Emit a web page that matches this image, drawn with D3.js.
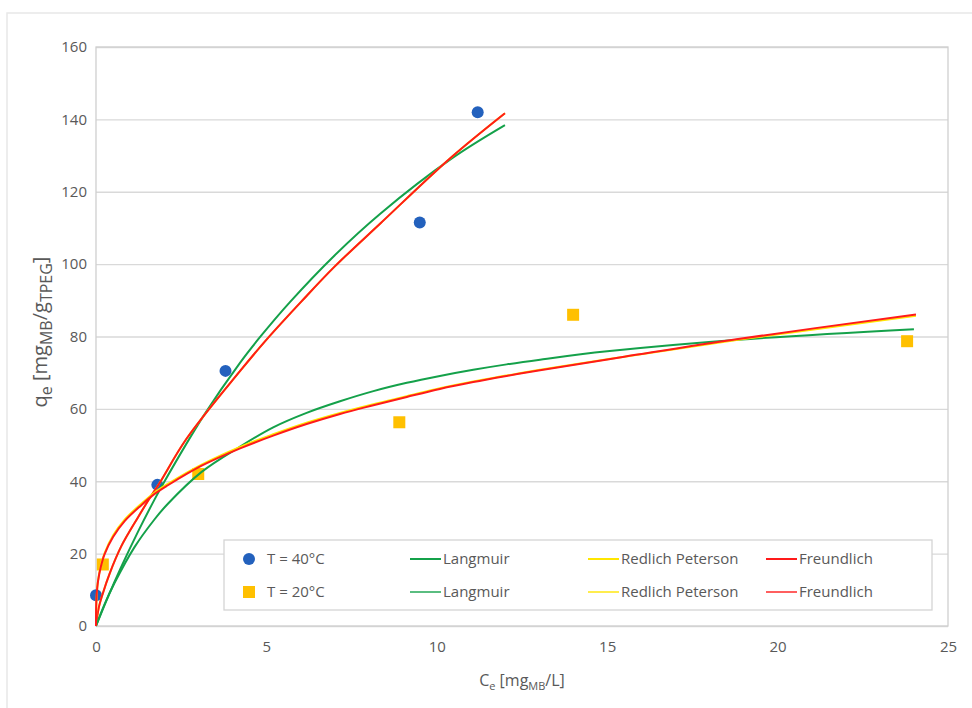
<!DOCTYPE html>
<html lang="en">
<head>
<meta charset="UTF-8">
<title>Isotherms</title>
<script src="https://d3js.org/d3.v7.min.js"></script>
<style>
    body { margin: 0; background: #fff; }
    text { font-family: "Open Sans", sans-serif; fill: #595959; }
    .grid line { stroke: #d9d9d9; stroke-width: 1.3; }
    .grid path { display: none; }
    .axis path, .axis line { display: none; }
    .fit { fill: none; stroke-width: 2; }
</style>
</head>
<body>
<div id="chart"></div>
<script>
    // measured points
    const pts40 = [[0.0, 8.5], [1.8, 39], [3.8, 70.5], [9.5, 111.5], [11.2, 142]];
    const pts20 = [[0.2, 17], [3.0, 42], [8.9, 56.3], [14.0, 86], [23.8, 78.7]];

    // fitted curves
    const langmuir40 = [[0, 0], [0.35, 8], [0.74, 16.3], [1.23, 26], [1.72, 35], [2.0, 39.8], [3.15, 58],
        [4.23, 72.8], [4.81, 79.8], [5.69, 89.5], [7, 102.4], [8.35, 114], [10.41, 129], [12, 138.4]];
    const freundlich40 = [[0, 0], [0.08, 5], [0.2, 9], [0.4, 14.5], [0.74, 22], [1.23, 30], [1.62, 36], [1.87, 39.6],
        [2.66, 51.8], [4.23, 70.5], [5.01, 79.2], [6.03, 89.7], [7, 99.3], [8.35, 111.3], [10.41, 129.4], [12, 141.7]];
    const redlich40 = freundlich40;
    const langmuir20 = [[0, 0], [0.25, 6], [0.55, 12], [1.13, 21.8], [1.72, 29.5], [2.11, 33.8], [3.1, 42.6],
        [4.23, 49.6], [5.2, 54.9], [6.18, 58.9], [7.16, 62.1], [8.14, 64.9], [9.12, 67.2], [10.09, 69.1],
        [11.07, 70.8], [12.05, 72.3], [13.03, 73.6], [15, 75.9], [18.84, 79.1], [24, 82]];
    const freundlich20 = [[0, 0], [0.005, 5.5], [0.02, 8.8], [0.06, 12.4], [0.14, 16.3], [0.25, 19.8], [0.5, 24.6],
        [0.84, 29], [1.33, 33.4], [1.72, 36.5], [2.11, 38.9], [3.1, 44.3], [4.23, 49.1], [5.2, 52.6], [6.18, 55.8],
        [7.16, 58.6], [8.14, 61], [9.12, 63.3], [10.09, 65.5], [11.07, 67.4], [12.05, 69.1], [13.03, 70.7],
        [15.5, 74.4], [18.84, 79.3], [24.06, 86.1]];
    const redlich20 = [[0, 0], [0.02, 8], [0.06, 12.6], [0.14, 16.6], [0.25, 20.1], [0.5, 25], [0.84, 29.4],
        [1.33, 33.8], [1.72, 36.9], [2.11, 39.3], [3.1, 44.6], [4.23, 49.5], [5.2, 53], [6.18, 56.2], [7.16, 58.9],
        [8.14, 61.3], [9.12, 63.5], [10.09, 65.7], [11.07, 67.6], [12.05, 69.2], [13.03, 70.8],
        [15.5, 74.4], [18.84, 79.1], [24.06, 85.7]];

    const xTicks = [0, 5, 10, 15, 20, 25];
    const yTicks = [0, 20, 40, 60, 80, 100, 120, 140, 160];

    const width = 972, height = 708;
    const pLeft = 96, pRight = 948, pTop = 47, pBottom = 626;

    const svg = d3.select("#chart").append("svg")
        .attr("width", width)
        .attr("height", height);

    // chart frame (cropped)
    svg.append("rect")
        .attr("x", 7).attr("y", 13)
        .attr("width", 1000).attr("height", 800)
        .attr("fill", "none")
        .attr("stroke", "#e8e8e8")
        .attr("stroke-width", 1.5);

    const x = d3.scaleLinear().domain([0, 25]).range([pLeft, pRight]);
    const y = d3.scaleLinear().domain([0, 160]).range([pBottom, pTop]);

    // horizontal gridlines
    svg.append("g")
        .attr("class", "grid")
        .attr("transform", "translate(" + pLeft + ",0)")
        .call(d3.axisLeft(y).tickValues(yTicks).tickSize(-(pRight - pLeft)).tickFormat(""));

    // plot border
    svg.append("rect")
        .attr("x", pLeft).attr("y", pTop)
        .attr("width", pRight - pLeft).attr("height", pBottom - pTop)
        .attr("fill", "none")
        .attr("stroke", "#cfcfcf")
        .attr("stroke-width", 1.3);

    svg.append("g")
        .attr("class", "axis")
        .attr("transform", "translate(" + (pLeft - 6) + ",0)")
        .call(d3.axisLeft(y).tickValues(yTicks).tickSize(0))
        .selectAll("text")
        .style("font-size", "15px")
        .attr("fill", "#595959");

    svg.append("g")
        .attr("class", "axis")
        .attr("transform", "translate(0," + (pBottom + 12) + ")")
        .call(d3.axisBottom(x).tickValues(xTicks).tickSize(0))
        .selectAll("text")
        .style("font-size", "15px")
        .attr("fill", "#595959");

    const line = d3.line()
        .x(d => x(d[0]))
        .y(d => y(d[1]))
        .curve(d3.curveCatmullRom.alpha(0.5));

    const green = "#14a14a", yellow = "#ffe600", red = "#ff1a1a";
    const blue = "#2361bd", orange = "#ffc000";

    function drawCircles(data) {
        svg.append("g").selectAll("circle")
            .data(data)
            .enter().append("circle")
            .attr("cx", d => x(d[0]))
            .attr("cy", d => y(d[1]))
            .attr("r", 6)
            .attr("fill", blue);
    }
    function drawSquares(data) {
        svg.append("g").selectAll("rect")
            .data(data)
            .enter().append("rect")
            .attr("x", d => x(d[0]) - 6)
            .attr("y", d => y(d[1]) - 6)
            .attr("width", 12)
            .attr("height", 12)
            .attr("fill", orange);
    }
    function drawFit(data, color) {
        svg.append("path")
            .datum(data)
            .attr("class", "fit")
            .attr("stroke", color)
            .attr("d", line);
    }

    drawCircles(pts40);
    drawFit(langmuir40, green);
    drawFit(redlich40, yellow);
    drawFit(freundlich40, red);
    drawSquares(pts20);
    drawFit(langmuir20, green);
    drawFit(redlich20, yellow);
    drawFit(freundlich20, red);

    // legend
    const lg = svg.append("g");
    lg.append("rect")
        .attr("x", 224).attr("y", 540)
        .attr("width", 708).attr("height", 70)
        .attr("fill", "#fff")
        .attr("stroke", "#d4d4d4")
        .attr("stroke-width", 1.3);

    const rows = [
        { y: 559, label: "T = 40°C", marker: "circle", w: 2 },
        { y: 592, label: "T = 20°C", marker: "square", w: 1.4 }
    ];
    const fits = [
        { x: 410, label: "Langmuir", color: green },
        { x: 588, label: "Redlich Peterson", color: yellow },
        { x: 766, label: "Freundlich", color: red }
    ];
    rows.forEach(r => {
        if (r.marker === "circle") {
            lg.append("circle").attr("cx", 249).attr("cy", r.y).attr("r", 6).attr("fill", blue);
        } else {
            lg.append("rect").attr("x", 243).attr("y", r.y - 6).attr("width", 12).attr("height", 12).attr("fill", orange);
        }
        lg.append("text")
            .attr("x", 267).attr("y", r.y)
            .attr("dy", "0.35em")
            .style("font-size", "15px")
            .text(r.label);
        fits.forEach(f => {
            lg.append("line")
                .attr("x1", f.x).attr("x2", f.x + 31)
                .attr("y1", r.y).attr("y2", r.y)
                .attr("stroke", f.color)
                .attr("stroke-width", r.w);
            lg.append("text")
                .attr("x", f.x + 33).attr("y", r.y)
                .attr("dy", "0.35em")
                .style("font-size", "15px")
                .text(f.label);
        });
    });

    // axis titles
    const xt = svg.append("text")
        .attr("x", (pLeft + pRight) / 2)
        .attr("y", 686)
        .attr("text-anchor", "middle")
        .style("font-size", "16px");
    xt.append("tspan").text("C");
    xt.append("tspan").attr("dy", 4).style("font-size", "11px").text("e");
    xt.append("tspan").attr("dy", -4).text(" [mg");
    xt.append("tspan").attr("dy", 4).style("font-size", "11px").text("MB");
    xt.append("tspan").attr("dy", -4).text("/L]");

    const yt = svg.append("text")
        .attr("transform", "translate(47,332) rotate(-90)")
        .attr("text-anchor", "middle")
        .style("font-size", "20px");
    yt.append("tspan").text("q");
    yt.append("tspan").attr("dy", 5).style("font-size", "16px").text("e");
    yt.append("tspan").attr("dy", -5).text(" [mg");
    yt.append("tspan").attr("dy", 5).style("font-size", "16px").text("MB");
    yt.append("tspan").attr("dy", -5).text("/g");
    yt.append("tspan").attr("dy", 5).style("font-size", "16px").text("TPEG");
    yt.append("tspan").attr("dy", -5).text("]");
</script>
</body>
</html>
